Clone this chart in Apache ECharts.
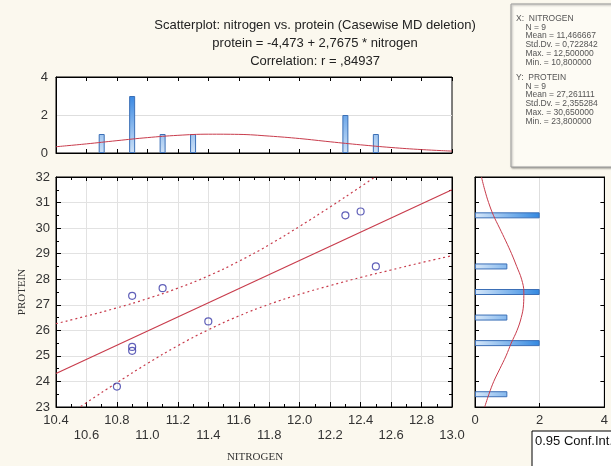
<!DOCTYPE html>
<html>
<head>
<meta charset="utf-8">
<title>Scatterplot: nitrogen vs. protein</title>
<script src="https://cdn.jsdelivr.net/npm/echarts@6/dist/echarts.min.js"></script>
<style>
	html, body { margin: 0; padding: 0; background: #fbf8ee; }
	#chart { width: 611px; height: 466px; }
</style>
</head>
<body>
<div id="chart"></div>
<script>
// raw cases
var nitrogen = [10.8, 10.9, 10.9, 10.9, 11.1, 11.4, 12.3, 12.4, 12.5];
var protein = [23.8, 27.35, 25.35, 25.2, 27.65, 26.35, 30.5, 30.65, 28.5];

// histogram of nitrogen (top)
var nitrogenBins = [10.7, 10.9, 11.1, 11.3, 12.3, 12.5];
var nitrogenCounts = [1, 3, 1, 1, 2, 1];
var nitrogenCurveX = [10.4, 10.6, 10.8, 11.0, 11.2, 11.4, 11.6, 11.8, 12.0, 12.2, 12.4, 12.6, 12.8, 13.0];
var nitrogenCurveY = [0.33, 0.48, 0.65, 0.81, 0.93, 0.99, 0.98, 0.89, 0.76, 0.59, 0.43, 0.29, 0.18, 0.10];

// histogram of protein (right)
var proteinBins = ['23.5', '24.5', '25.5', '26.5', '27.5', '28.5', '29.5', '30.5', '31.5'];
var proteinCounts = [1, 0, 2, 1, 2, 1, 0, 2, 0];
var proteinCurveY = [23, 23.5, 24, 24.5, 25, 25.5, 26, 26.5, 27, 27.5, 28, 28.5, 29, 29.5, 30, 30.5, 31, 31.5, 32];
var proteinCurveX = [0.30, 0.43, 0.58, 0.77, 0.96, 1.12, 1.30, 1.43, 1.50, 1.51, 1.44, 1.29, 1.13, 0.95, 0.76, 0.57, 0.42, 0.30, 0.20];

// fitted line and 0.95 band
var fitX = [10.4, 13.0];
var fitY = [24.31, 31.50];
var bandX = [10.4, 10.6, 10.8, 11.0, 11.2, 11.4, 11.6, 11.8, 12.0, 12.2, 12.4, 12.6, 12.8, 13.0];
var bandUpper = [26.26, 26.56, 26.88, 27.24, 27.65, 28.13, 28.70, 29.35, 30.07, 30.83, 31.62, 32.43, 33.25, 34.08];
var bandLower = [22.36, 23.17, 23.95, 24.70, 25.40, 26.02, 26.56, 27.02, 27.41, 27.75, 28.07, 28.36, 28.65, 28.92];

var titleLines = [
	'Scatterplot: nitrogen vs. protein (Casewise MD deletion)',
	'protein = -4,473 + 2,7675 * nitrogen',
	'Correlation: r = ,84937'
];
var statsX = ['X:  NITROGEN', '    N = 9', '    Mean = 11,466667', '    Std.Dv. = 0,722842', '    Max. = 12,500000', '    Min. = 10,800000'];
var statsY = ['Y:  PROTEIN', '    N = 9', '    Mean = 27,261111', '    Std.Dv. = 2,355284', '    Max. = 30,650000', '    Min. = 23,800000'];

var sans = '"Liberation Sans", Arial, sans-serif';
var serif = '"Liberation Serif", "Times New Roman", serif';
var redLine = '#c83c4c';

function pairs(xs, ys) {
	return xs.map(function(v, i) {
		return [v, ys[i]];
	});
}

// axis drawn on an edge of a grid, ticks only
function edgeAxis(grid, pos, min, max, interval, minor) {
	return {
		gridIndex: grid,
		type: 'value',
		position: pos,
		min: min,
		max: max,
		interval: interval,
		axisLine: { show: true, onZero: false, lineStyle: { color: '#000', width: 1 } },
		axisTick: { show: true, inside: true, length: 4, lineStyle: { color: '#000' } },
		minorTick: { show: !!minor, splitNumber: minor || 5, length: 3, lineStyle: { color: '#000' } },
		axisLabel: { show: false },
		splitLine: { show: false }
	};
}

function statsText(lines, top) {
	return lines.map(function(t, i) {
		return {
			type: 'text',
			left: 516,
			top: top + i * 8.8,
			style: { text: t, fontSize: 8.5, fontFamily: sans, fill: '#555', verticalAlign: 'middle' }
		};
	});
}

var chart = echarts.init(document.getElementById('chart'));

var mainX = edgeAxis(1, 'bottom', 10.4, 13.0, 0.2, 2);
mainX.splitLine = { show: true, lineStyle: { color: '#e2e2e2' } };
mainX.axisTick.length = 5;
mainX.axisLabel = {
	show: true,
	margin: 6,
	fontSize: 13,
	lineHeight: 15,
	fontFamily: sans,
	color: '#333',
	showMinLabel: true,
	showMaxLabel: true,
	formatter: function(v) {
		var s = v.toFixed(1);
		return (Math.round(v * 10) % 4 === 0) ? s : '\n' + s; //两行交错
	}
};

var mainY = edgeAxis(1, 'left', 23, 32, 1, 2);
mainY.splitLine = { show: true, lineStyle: { color: '#e2e2e2' } };
mainY.axisTick.length = 5;
mainY.axisLabel = { show: true, margin: 6, fontSize: 13, fontFamily: sans, color: '#333' };

var topY = edgeAxis(0, 'left', 0, 4, 2);
topY.axisTick.show = false;
topY.splitLine = { show: true, lineStyle: { color: '#dedede' } };
topY.axisLabel = { show: true, margin: 8, fontSize: 13, fontFamily: sans, color: '#333' };

var rightX = edgeAxis(2, 'bottom', 0, 4, 2);
rightX.splitLine = { show: true, lineStyle: { color: '#dedede' } };
rightX.axisLabel = { show: true, margin: 7, fontSize: 13, fontFamily: sans, color: '#333' };

var rightTopX = edgeAxis(2, 'top', 0, 4, 2);
rightTopX.axisTick.show = false;

chart.setOption({
	backgroundColor: '#fbf8ee',
	animation: false,
	title: {
		text: titleLines.join('\n'),
		left: 310,
		top: 11,
		textAlign: 'center',
		textStyle: { fontSize: 13, fontWeight: 'normal', lineHeight: 18, color: '#222', fontFamily: sans }
	},
	grid: [
		{ left: 56, top: 77, width: 396, height: 76, show: true, backgroundColor: '#fff', borderColor: '#000' },
		{ left: 56, top: 177, width: 396, height: 230, show: true, backgroundColor: '#fff', borderColor: '#000' },
		{ left: 475, top: 177, width: 132, height: 230, show: true, backgroundColor: '#fff', borderColor: '#000' }
	],
	xAxis: [
		edgeAxis(0, 'bottom', 10.4, 13.0, 0.2),
		edgeAxis(0, 'top', 10.4, 13.0, 0.2),
		mainX,
		edgeAxis(1, 'top', 10.4, 13.0, 0.2, 2),
		rightX,
		rightTopX
	],
	yAxis: [
		topY,
		mainY,
		edgeAxis(1, 'right', 23, 32, 1, 2),
		edgeAxis(2, 'left', 23, 32, 1),
		edgeAxis(2, 'right', 23, 32, 1),
		{ gridIndex: 2, type: 'category', data: proteinBins, show: false, boundaryGap: true }
	],
	graphic: [
		{
			type: 'rect',
			shape: { x: 511, y: 4, width: 120, height: 163 },
			style: { fill: '#fdfbf4', stroke: '#9a9a9a', lineWidth: 1, shadowBlur: 2, shadowOffsetX: 1, shadowOffsetY: 1, shadowColor: 'rgba(0,0,0,0.35)' }
		},
		{
			type: 'rect',
			shape: { x: 532, y: 431, width: 90, height: 50 },
			style: { fill: '#fff', stroke: '#000', lineWidth: 1 }
		},
		{
			type: 'text',
			left: 535,
			top: 435,
			style: { text: '0.95 Conf.Int.', fontSize: 13, fontFamily: sans, fill: '#111' }
		},
		{
			type: 'text',
			x: 255,
			y: 457,
			style: { text: 'NITROGEN', fontSize: 11, fontFamily: serif, fill: '#333', align: 'center', verticalAlign: 'middle' }
		},
		{
			type: 'text',
			x: 22,
			y: 292,
			rotation: Math.PI / 2,
			style: { text: 'PROTEIN', fontSize: 11, fontFamily: serif, fill: '#333', align: 'center', verticalAlign: 'middle' }
		}
	].concat(statsText(statsX, 14), statsText(statsY, 73)),
	series: [
		{
			type: 'bar',
			xAxisIndex: 0,
			yAxisIndex: 0,
			barWidth: 6,
			data: pairs(nitrogenBins, nitrogenCounts),
			itemStyle: {
				color: new echarts.graphic.LinearGradient(0, 90, 0, 153, [
					{ offset: 0, color: '#2a7fe0' },
					{ offset: 1, color: '#cfe2f7' }
				], true),
				borderColor: '#3b6fb6',
				borderWidth: 1
			}
		},
		{
			type: 'line',
			xAxisIndex: 0,
			yAxisIndex: 0,
			smooth: 0.4,
			symbol: 'none',
			data: pairs(nitrogenCurveX, nitrogenCurveY),
			lineStyle: { color: redLine, width: 1 }
		},
		{
			type: 'line',
			xAxisIndex: 2,
			yAxisIndex: 1,
			symbol: 'none',
			data: pairs(fitX, fitY),
			lineStyle: { color: redLine, width: 1.2 }
		},
		{
			type: 'line',
			xAxisIndex: 2,
			yAxisIndex: 1,
			smooth: true,
			symbol: 'none',
			data: pairs(bandX, bandUpper),
			lineStyle: { color: redLine, width: 1.2, type: [2, 3] }
		},
		{
			type: 'line',
			xAxisIndex: 2,
			yAxisIndex: 1,
			smooth: true,
			symbol: 'none',
			data: pairs(bandX, bandLower),
			lineStyle: { color: redLine, width: 1.2, type: [2, 3] }
		},
		{
			type: 'scatter',
			xAxisIndex: 2,
			yAxisIndex: 1,
			symbol: 'circle',
			symbolSize: 7,
			data: pairs(nitrogen, protein),
			itemStyle: { color: 'rgba(255,255,255,0)', borderColor: '#3a3aa8', borderWidth: 1.2 },
			z: 5
		},
		{
			type: 'bar',
			xAxisIndex: 4,
			yAxisIndex: 5,
			barWidth: 6,
			// empty bins draw nothing
			data: proteinCounts.map(function(v) {
				return v === 0 ? '-' : v;
			}),
			itemStyle: {
				color: new echarts.graphic.LinearGradient(475, 0, 541, 0, [
					{ offset: 0, color: '#d6e7f9' },
					{ offset: 1, color: '#2f86e0' }
				], true),
				borderColor: '#3b6fb6',
				borderWidth: 1
			}
		},
		{
			type: 'line',
			xAxisIndex: 4,
			yAxisIndex: 3,
			smooth: 0.4,
			symbol: 'none',
			data: pairs(proteinCurveX, proteinCurveY),
			lineStyle: { color: redLine, width: 1 }
		}
	]
});
</script>
</body>
</html>
